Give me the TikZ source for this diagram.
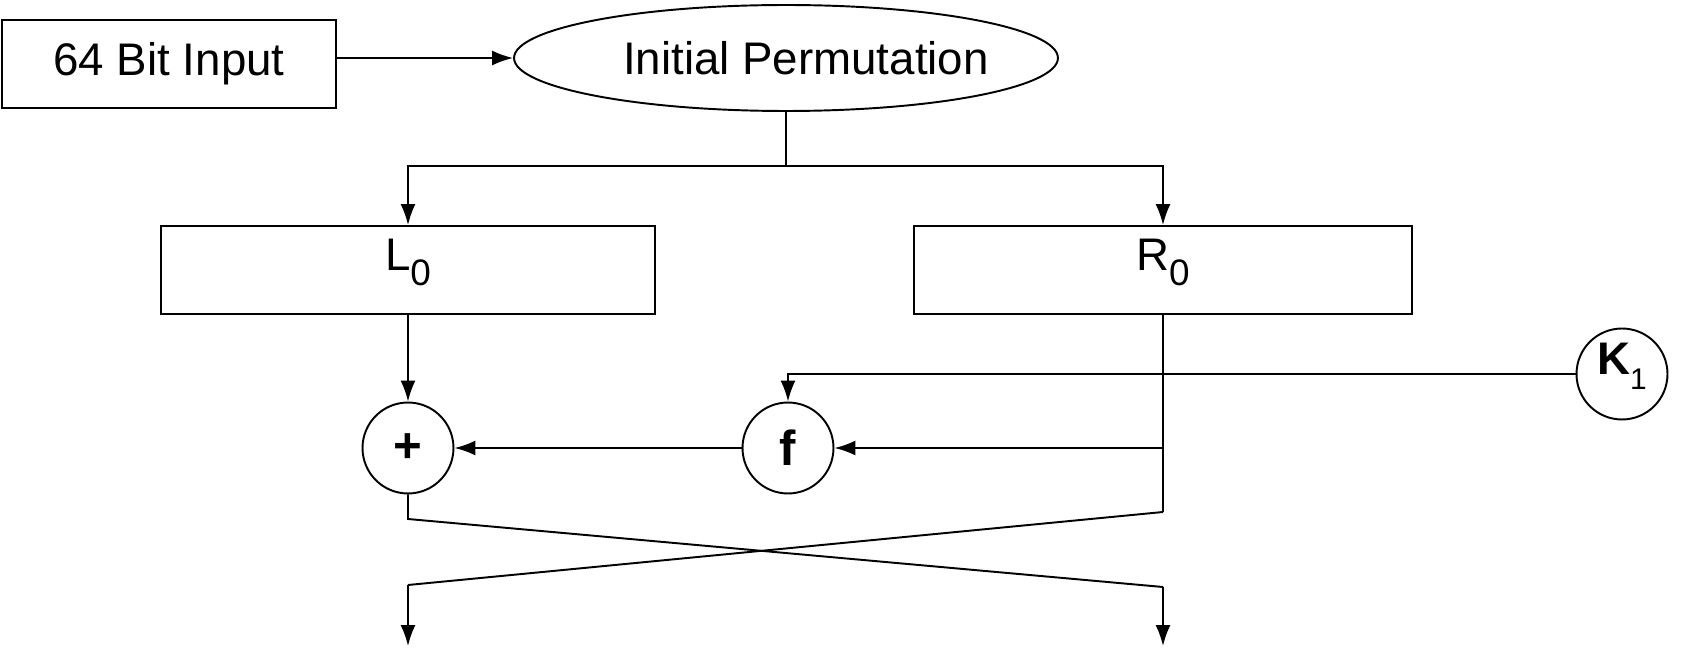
\documentclass[tikz,border=0pt]{standalone}
\usepackage{fontspec}
\setmainfont{Liberation Sans}
\usetikzlibrary{shapes.geometric,arrows.meta,positioning}
\newcommand\dessub[2][21]{\raisebox{-8.5pt}{\fontsize{#1}{#1}\selectfont\mdseries #2}}
\tikzset{
 des line/.style={line width=1.1pt},
 des flow/.style={des line,-{Latex[length=.42cm,width=.3cm]}},
 des box/.style={draw,des line,rectangle,inner sep=0pt,minimum height=1.76cm},
 des oval/.style={draw,des line,ellipse,inner sep=0pt,
                  minimum width=10.88cm,minimum height=2.12cm},
 des op/.style={draw,des line,circle,inner sep=0pt,minimum size=1.82cm,
                font=\fontsize{28}{32}\selectfont\bfseries},
 des indexed/.style={text height=19pt,text depth=18pt}
}

\begin{document}
\begin{tikzpicture}[x=.02cm,y=-.02cm,font=\fontsize{26}{30}\selectfont]
 \useasboundingbox (0,0) rectangle (1704,648);
 % input and initial permutation
 \node[des box,minimum width=6.68cm] (in64) at (169,64) {64 Bit Input};
 \node[des oval] (ip) at (786,58)
   {\hspace*{.4cm}Initial Permutation\hspace*{-.4cm}};
 \draw[des flow] (in64.east |- ip.west) -- (ip.west);
 % the two halves
 \node[des box,des indexed,minimum width=9.88cm] (l0) at (408,270) {L\dessub{0}};
 \node[des box,des indexed,minimum width=9.96cm] (r0) at (1163,270) {R\dessub{0}};
 \coordinate (split) at (786,166);
 \draw[des line] (ip.south) -- (split);
 \foreach \h in {l0,r0}{\draw[des flow] (split) -| (\h.north);}
 % round function
 \node[des op] (xor) at (408,448) {+};
 \node[des op] (fn) at (788,448) {f};
 \node[des op,des indexed,font=\fontsize{26}{30}\selectfont\bfseries] (k1)
   at (1622,374) {K\dessub[17]{1}};
 \coordinate (rtap) at (r0.south |- fn.east);
 \coordinate (rend) at (1163,512);
 \draw[des flow] (l0.south) -- (xor.north);
 \draw[des line] (r0.south) -- (rend);
 \draw[des flow] (rtap) -- (fn.east);
 \draw[des flow] (fn.west) -- (xor.east);
 \draw[des flow] (k1.west) -| (fn.north);
 % swap of the halves
 \coordinate (lend) at (408,519);
 \coordinate (lout) at (408,585);
 \coordinate (rout) at (1163,587);
 \coordinate (lbot) at (408,646);
 \coordinate (rbot) at (1163,646);
 \draw[des line] (xor.south) -- (lend) -- (rout);
 \draw[des line] (rend) -- (lout);
 \draw[des flow] (lout) -- (lbot);
 \draw[des flow] (rout) -- (rbot);
\end{tikzpicture}
\end{document}
